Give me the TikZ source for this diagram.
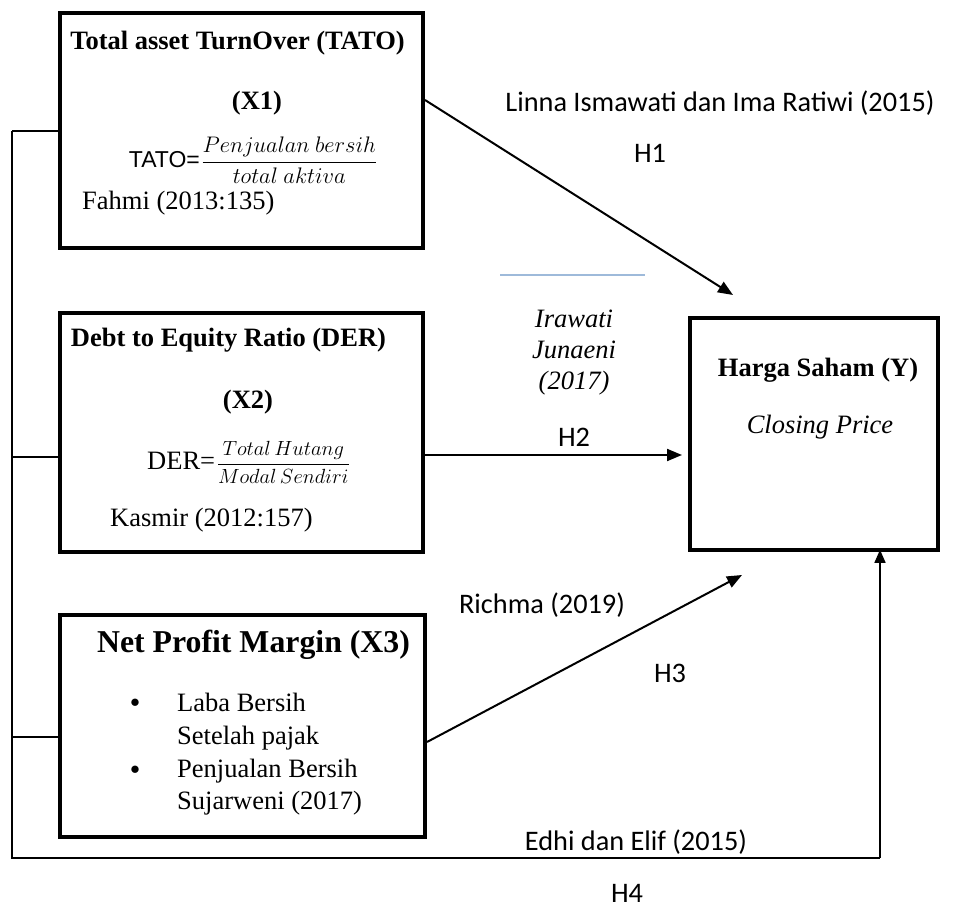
\RequirePackage{fix-cm}
\documentclass[tikz,border=0pt]{standalone}
\usepackage{fontspec}
\setmainfont{Liberation Serif}
\newfontfamily\calib{Carlito}
\newfontfamily\arialf{Liberation Sans}
\usetikzlibrary{arrows.meta}
\definecolor{paleblue}{RGB}{158,186,218}
\tikzset{
  varbox/.style={draw, line width=4pt, inner sep=0pt, minimum width=#1},
  tnr/.style={font=\fontsize{26.5}{30}\selectfont, inner sep=0pt},
  tnrbig/.style={font=\fontsize{31.8}{36}\selectfont\bfseries, inner sep=0pt},
  lbl/.style={font=\calib\fontsize{28.3}{32}\selectfont, inner sep=0pt},
  harrow/.style={line width=2pt, -{Triangle[length=15pt,width=12pt]}},
  thinline/.style={line width=1.3pt},
}
\begin{document}
\begin{tikzpicture}[x=1pt,y=-1pt]
\useasboundingbox (0,0) rectangle (956,909);

% boxes
\node[varbox=363pt, minimum height=235pt] (b1) at (241.5,130.5) {};
\node[varbox=363pt, minimum height=239pt] (b2) at (241.5,432.5) {};
\node[varbox=365pt, minimum height=222pt] (b3) at (242.5,726) {};
\node[varbox=248pt, minimum height=232pt, line width=3.6pt] (yb) at (814,434) {};

% box 1 text
\node[tnr, font=\fontsize{26.5}{30}\selectfont\bfseries] (b1t) at (237.5,43) {Total asset TurnOver (TATO)};
\node[tnr, font=\fontsize{26.5}{30}\selectfont\bfseries] (b1x) at (257,103) {(X1)};
\node[inner sep=0pt] (b1f) at (253,160) {{\arialf\fontsize{23}{26}\selectfont TATO=}\,{\fontsize{22.5}{26}\selectfont$\displaystyle\frac{Penjualan\ bersih}{total\ aktiva}$}};
\node[tnr, anchor=west] (b1s) at (82,203) {Fahmi (2013:135)};

% box 2 text
\node[tnr, font=\fontsize{26.5}{30}\selectfont\bfseries] (b2t) at (228.5,340) {Debt to Equity Ratio (DER)};
\node[tnr, font=\fontsize{26.5}{30}\selectfont\bfseries] (b2x) at (248,402) {(X2)};
\node[inner sep=0pt] (b2f) at (248.5,462) {{\fontsize{26.5}{30}\selectfont DER=}\,{\fontsize{20.5}{25}\selectfont$\displaystyle\frac{Total\,Hutang}{Modal\,Sendiri}$}};
\node[tnr, anchor=west] (b2s) at (110,520) {Kasmir (2012:157)};

% box 3 text
\node[tnrbig] (b3t) at (253.5,645) {Net Profit Margin (X3)};
\node[inner sep=0pt, font=\fontsize{19}{22}\selectfont] (bul1) at (135,703) {$\bullet$};
\node[inner sep=0pt, font=\fontsize{19}{22}\selectfont] (bul2) at (135,770) {$\bullet$};
\node[tnr, anchor=base west] (l1) at (177,711) {Laba Bersih};
\node[tnr, anchor=base west] (l2) at (177,744) {Setelah pajak};
\node[tnr, anchor=base west] (l3) at (177,777) {Penjualan Bersih};
\node[tnr, anchor=base west] (l4) at (177,809) {Sujarweni (2017)};

% Y box text
\node[tnr, font=\fontsize{26.5}{30}\selectfont\bfseries] (ybt) at (818,370) {Harga Saham (Y)};
\node[tnr, font=\fontsize{26.5}{30}\selectfont\itshape] (ybs) at (820,427) {Closing Price};

% labels
\node[lbl] (lab1) at (720,103) {Linna Ismawati dan Ima Ratiwi (2015)};
\node[lbl] (h1) at (650,153) {H1};
\node[tnr, font=\fontsize{26.5}{30}\selectfont\itshape] (ir1) at (574,319) {Irawati};
\node[tnr, font=\fontsize{26.5}{30}\selectfont\itshape] (ir2) at (574,350) {Junaeni};
\node[tnr, font=\fontsize{26.5}{30}\selectfont\itshape] (ir3) at (574,383) {(2017)};
\node[lbl] (h2) at (574,437) {H2};
\node[lbl] (lab3) at (542,605) {Richma (2019)};
\node[lbl] (h3) at (670,673) {H3};
\node[lbl] (lab4) at (636,842) {Edhi dan Elif (2015)};
\node[lbl] (h4) at (627,893) {H4};

% pale blue line
\coordinate (bl1) at (500,275);
\coordinate (bl2) at (645,275);
\draw[paleblue, line width=1.6pt] (bl1) -- (bl2);

% connectors
\coordinate (t1) at (733,295);
\coordinate (t2) at (682,455);
\coordinate (t3) at (742,575);
\draw[harrow] ([yshift=30.5pt]b1.east) -- (t1);
\draw[harrow] ([yshift=-22.5pt]b2.east) -- (t2);
\draw[harrow] ([yshift=-16pt]b3.east) -- (t3);

% left bus and bottom line
\coordinate (busTop) at (12,131);
\coordinate (busM) at (12,457);
\coordinate (busL) at (12,737);
\coordinate (busB) at (12,858);
\coordinate (corner) at (880,858);
\draw[thinline] (busTop) -- (busB) -- (corner);
\draw[thinline] (busTop) -- (busTop -| b1.west);
\draw[thinline] (busM) -- (busM -| b2.west);
\draw[thinline] (busL) -- (busL -| b3.west);
\draw[line width=1.5pt, -{Triangle[length=13pt,width=11pt]}] (corner) -- ([yshift=2pt]corner |- yb.south);
\end{tikzpicture}
\end{document}
